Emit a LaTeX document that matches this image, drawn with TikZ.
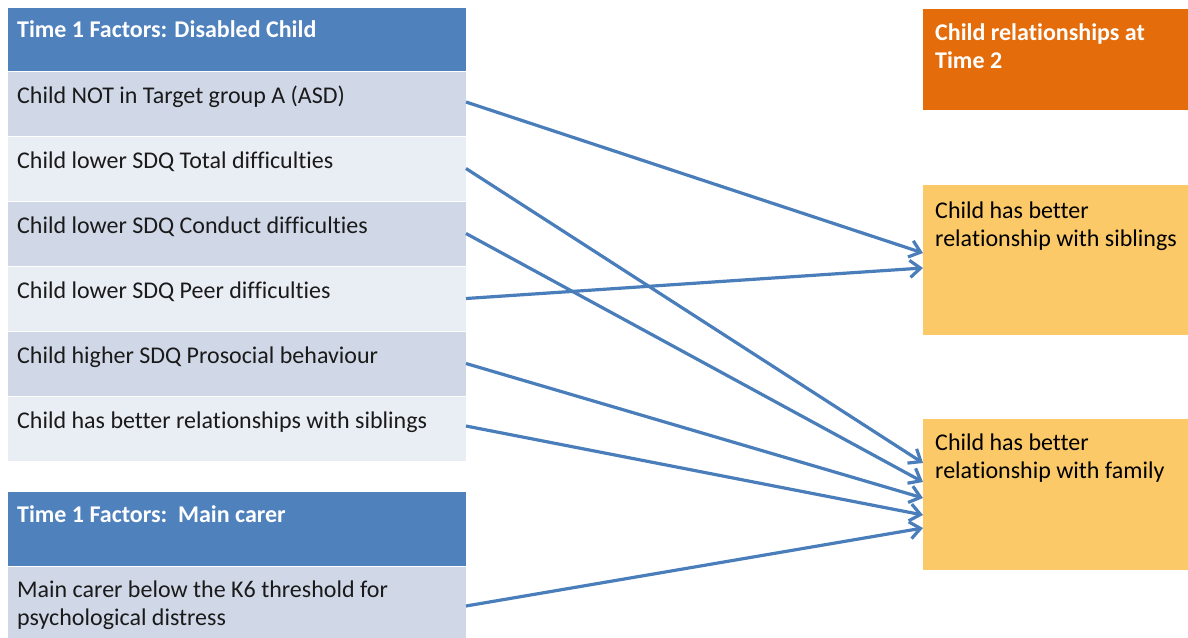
\documentclass[tikz,border=0pt]{standalone}
\usepackage{fontspec}
\setmainfont{Carlito}[Ligatures=NoCommon]
\usetikzlibrary{arrows.meta,calc}
\definecolor{hdrblue}{HTML}{4F81BD}
\definecolor{rowdark}{HTML}{D0D8E8}
\definecolor{rowlight}{HTML}{E9EDF4}
\definecolor{outorange}{HTML}{E46C0A}
\definecolor{outyellow}{RGB}{251,201,104}
\definecolor{linkblue}{HTML}{4A7EBB}
\definecolor{ink}{HTML}{1A1A1A}
\begin{document}
\begin{tikzpicture}[x=1pt,y=-1pt,
  cell/.style={rectangle, anchor=north west, inner sep=0pt, outer sep=0pt,
    minimum width=459pt, draw=white, line width=0.8pt},
  hdrcell/.style={cell, fill=hdrblue},
  darkcell/.style={cell, fill=rowdark, minimum height=65pt},
  lightcell/.style={cell, fill=rowlight, minimum height=65pt},
  outbox/.style={rectangle, anchor=north west, inner sep=0pt, outer sep=0pt,
    minimum width=265pt},
  hdrtxt/.style={anchor=base west, inner sep=0pt, text=white,
    font=\fontsize{24pt}{28pt}\selectfont\bfseries, align=left},
  bodytxt/.style={anchor=base west, inner sep=0pt, text=ink,
    font=\fontsize{24pt}{28.5pt}\selectfont, align=left},
  link/.style={draw=linkblue, line width=3.2pt,
    -{Straight Barb[length=10.5pt,width=17pt,line width=3.2pt]}}
]
\useasboundingbox (0,0) rectangle (1188,637);

% Time 1 factors: disabled child
\node[hdrcell, minimum height=64pt] (h1) at (7,7) {};
\node[darkcell]  (r1) at (7,71)  {};
\node[lightcell] (r2) at (7,136) {};
\node[darkcell]  (r3) at (7,201) {};
\node[lightcell] (r4) at (7,266) {};
\node[darkcell]  (r5) at (7,331) {};
\node[lightcell] (r6) at (7,396) {};

\node[hdrtxt]  (h1t) at ([shift={(10pt,-30pt)}]h1.north west) {Time 1 Factors: Disabled Child};
\node[bodytxt] (r1t) at ([shift={(10pt,-32pt)}]r1.north west) {Child NOT in Target group A (ASD)};
\node[bodytxt] (r2t) at ([shift={(10pt,-32pt)}]r2.north west) {Child lower SDQ Total difficulties};
\node[bodytxt] (r3t) at ([shift={(10pt,-32pt)}]r3.north west) {Child lower SDQ Conduct difficulties};
\node[bodytxt] (r4t) at ([shift={(10pt,-32pt)}]r4.north west) {Child lower SDQ Peer difficulties};
\node[bodytxt] (r5t) at ([shift={(10pt,-32pt)}]r5.north west) {Child higher SDQ Prosocial behaviour};
\node[bodytxt] (r6t) at ([shift={(10pt,-32pt)}]r6.north west) {Child has better relationships with siblings};

% Time 1 factors: main carer
\node[hdrcell, minimum height=75pt] (h2) at (7,491) {};
\node[darkcell, minimum height=80pt] (m1) at (7,566) {};
\node[hdrtxt]  (h2t) at ([shift={(10pt,-31pt)}]h2.north west) {Time 1 Factors:\ \ Main carer};
% two-line texts: the base anchor sits on the last line
\node[bodytxt] (m1t) at ([shift={(10pt,-59.5pt)}]m1.north west) {Main carer below the K6 threshold for\\psychological distress};

% Outcomes at time 2
\node[outbox, fill=outorange, minimum height=101pt] (o0) at (923,9) {};
\node[outbox, fill=outyellow, minimum height=150pt] (sib) at (923,185) {};
\node[outbox, fill=outyellow, minimum height=151pt] (fam) at (923,419) {};
\node[hdrtxt]  (o0t)  at ([shift={(12pt,-59pt)}]o0.north west) {Child relationships at\\Time 2};
\node[bodytxt, text=black] (sibt) at ([shift={(12pt,-61.5pt)}]sib.north west) {Child has better\\relationship with siblings};
\node[bodytxt, text=black] (famt) at ([shift={(12pt,-59.5pt)}]fam.north west) {Child has better\\relationship with family};

% Connectors
\draw[link] ([yshift=1.5pt]r1.east) -- ([yshift=7pt]sib.west);
\draw[link] (r4.east) -- ([yshift=-8pt]sib.west);
\draw[link] (r2.east) -- ([yshift=31.5pt]fam.west);
\draw[link] (r3.east) -- ([yshift=12.5pt]fam.west);
\draw[link] (r5.east) -- ([yshift=-3.5pt]fam.west);
\draw[link] ([yshift=2.5pt]r6.east) -- ([yshift=-20.5pt]fam.west);
\draw[link] (m1.east) -- ([yshift=-33.5pt]fam.west);
\end{tikzpicture}
\end{document}
